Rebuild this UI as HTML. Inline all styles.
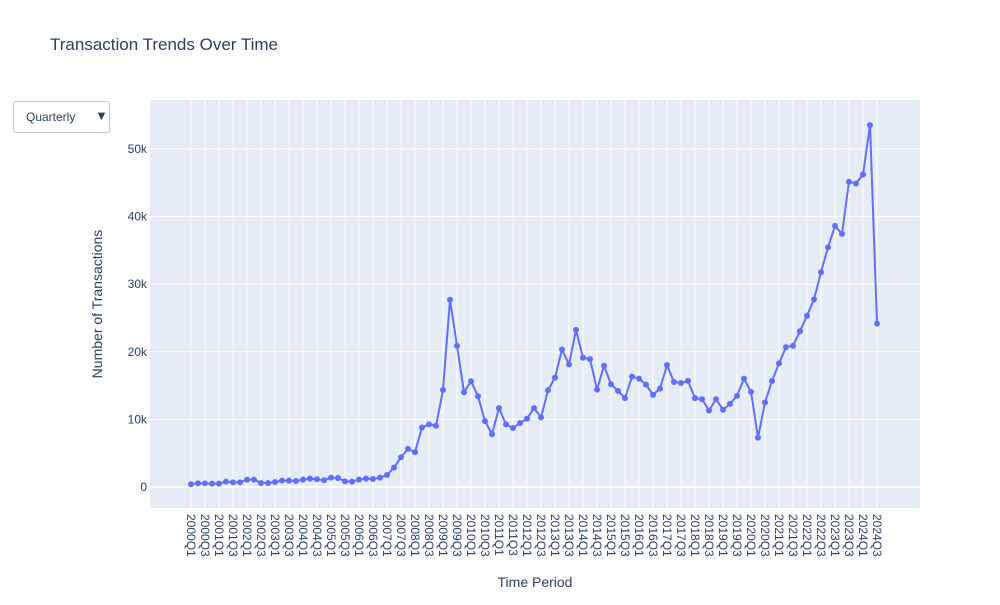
<!DOCTYPE html>
<html><head><meta charset="utf-8"><style>
body{margin:0;background:#fff;font-family:"Liberation Sans",sans-serif;}
#wrap{position:relative;width:1000px;height:600px;}
#dd{position:absolute;left:13px;top:101px;width:97px;height:32px;border:1px solid #bec8d9;border-radius:3px;background:#fff;box-sizing:border-box;font-size:12px;color:#2a3f5f;}
</style></head><body>
<div id="wrap">
<div id="dd"><span style="position:absolute;left:12px;top:8px">Quarterly</span><span style="position:absolute;left:81px;top:6px;font-size:13px">▼</span></div>
<svg id="svg" width="1000" height="600" xmlns="http://www.w3.org/2000/svg"></svg>
</div>
<script>
const values=[400,545,545,500,500,790,690,690,1090,1090,600,600,740,940,940,890,1090,1240,1140,990,1390,1340,840,790,1090,1240,1190,1390,1780,2870,4400,5640,5150,8810,9260,9060,14360,27700,20880,14020,15640,13430,9750,7800,11670,9260,8730,9460,10100,11670,10290,14310,16180,20340,18140,23240,19120,18920,14410,17940,15200,14220,13140,16320,16030,15150,13630,14560,18040,15540,15390,15690,13140,12990,11320,12990,11420,12300,13480,16030,14070,7300,12500,15690,18280,20690,20880,23040,25340,27750,31760,35440,38630,37450,45150,44900,46230,53530,24170];
const categories=[];
for(let y=2000;y<=2024;y++)for(let q=1;q<=4;q++)categories.push(y+'Q'+q);
categories.length=values.length;
const yTicks=[0,10000,20000,30000,40000,50000];
const yTickLabels=['0','10k','20k','30k','40k','50k'];

const NS='http://www.w3.org/2000/svg';
const svg=document.getElementById('svg');
const L=150,R=920,T=100,B=508;
const xs=i=>191+i*(877-191)/(categories.length-1);
const ys=v=>487-v*(338/50000);
function mk(tag,attrs,parent){const e=document.createElementNS(NS,tag);for(const k in attrs)e.setAttribute(k,attrs[k]);(parent||svg).appendChild(e);return e;}
let t=mk('text',{x:50,y:50,'font-size':17,fill:'#2a3f5f'});


t.textContent='Transaction Trends Over Time';
const bg=mk('rect',{x:L,y:T,width:R-L,height:B-T,fill:'#e5ecf6'});


categories.forEach((c,i)=>{
  if(i%2)return;
  const g=mk('line',{x1:xs(i),x2:xs(i),y1:T,y2:B,stroke:'#fff','stroke-width':1});
  
  
  const lb=mk('text',{x:0,y:0,'font-size':12,fill:'#2a3f5f',transform:`translate(${xs(i)-4},514) rotate(90)`});
  
  
  lb.textContent=c;
});
yTicks.forEach((v,i)=>{
  const g=mk('line',{x1:L,x2:R,y1:ys(v),y2:ys(v),stroke:'#fff','stroke-width':v===0?2:1});
  
  
  const lb=mk('text',{x:L-3,y:ys(v)+4,'font-size':12,fill:'#2a3f5f','text-anchor':'end'});
  
  
  lb.textContent=yTickLabels[i];
});
const line=mk('polyline',{points:values.map((v,i)=>xs(i)+','+ys(v)).join(' '),fill:'none',stroke:'#636efa','stroke-width':2,'stroke-linejoin':'round'});


values.forEach((v,i)=>{
  const p=mk('circle',{cx:xs(i),cy:ys(v),r:3,fill:'#636efa'});
  
  
});
const xt=mk('text',{x:535,y:587,'font-size':14,fill:'#2a3f5f','text-anchor':'middle'});


xt.textContent='Time Period';
const yt=mk('text',{x:0,y:0,'font-size':14,fill:'#2a3f5f','text-anchor':'middle',transform:'translate(102,304) rotate(-90)'});


yt.textContent='Number of Transactions';
</script>
</body></html>
